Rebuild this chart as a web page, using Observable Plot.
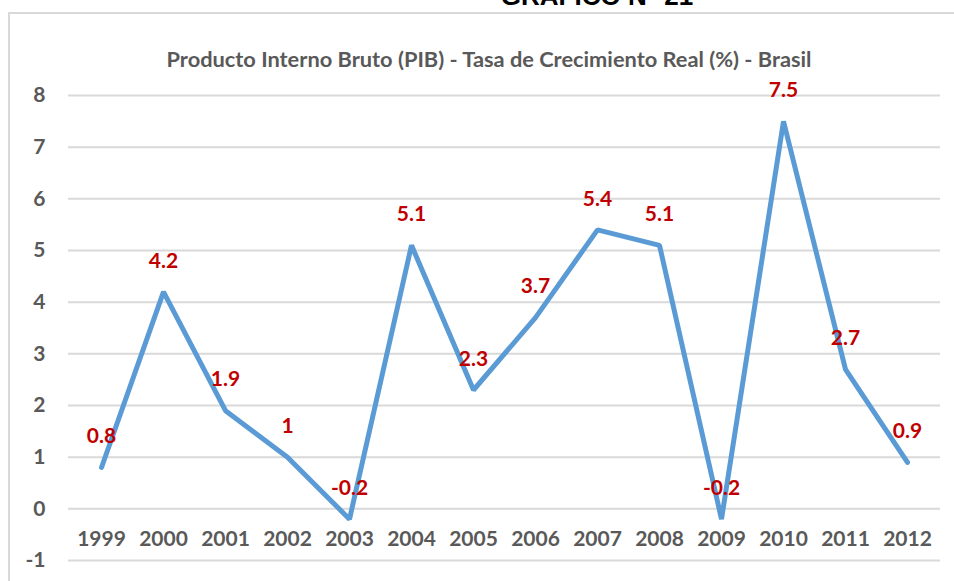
<!DOCTYPE html>
<html>
<head>
<meta charset="utf-8">
<script src="https://cdn.jsdelivr.net/npm/d3@7"></script>
<script src="https://cdn.jsdelivr.net/npm/@observablehq/plot@0.6"></script>
<style>
  html, body { margin: 0; padding: 0; background: #fff; }
  #wrap { position: relative; width: 954px; height: 581px; overflow: hidden; }
  #frame { position: absolute; left: 8px; top: 12px; width: 960px; height: 600px; border-left: 2px solid #d9d9d9; border-top: 2px solid #d9d9d9; box-sizing: border-box; }
  #gtitle { position: absolute; left: 0; width: 1194px; text-align: center; top: -19px; font-family: "Liberation Sans", Arial, sans-serif; font-weight: bold; font-size: 26px; color: #000; white-space: nowrap; }
  #ctitle { position: absolute; left: 0; width: 978px; text-align: center; top: 45px; font-family: Lato, sans-serif; font-weight: bold; font-size: 21.8px; color: #595959; white-space: nowrap; }
  #chart { position: absolute; left: 0; top: 0; }
</style>
</head>
<body>
<div id="wrap">
  <div id="frame"></div>
  <div id="gtitle">GRAFICO N° 21</div>
  <div id="ctitle">Producto Interno Bruto (PIB) - Tasa de Crecimiento Real (%) - Brasil</div>
  <div id="chart"></div>
</div>
<script>
const years = ["1999","2000","2001","2002","2003","2004","2005","2006","2007","2008","2009","2010","2011","2012"];
const growth = [0.8, 4.2, 1.9, 1, -0.2, 5.1, 2.3, 3.7, 5.4, 5.1, -0.2, 7.5, 2.7, 0.9];
const yTicks = [-1, 0, 1, 2, 3, 4, 5, 6, 7, 8];

const data = years.map((y, i) => ({year: y, value: growth[i]}));
const font = "Lato, sans-serif";

const chart = Plot.plot({
  width: 954,
  height: 581,
  marginTop: 95,
  marginBottom: 21,
  marginLeft: 68,
  marginRight: 14,
  style: {background: "transparent", fontFamily: font},
  x: {type: "band", domain: years, padding: 0},
  y: {domain: [-1, 8]},
  marks: [
    Plot.ruleY(yTicks, {stroke: "#d9d9d9", strokeWidth: 2}),
    Plot.axisY({ticks: yTicks, tickSize: 0, tickPadding: 23, fontSize: 21, fontWeight: "bold", fill: "#595959", tickFormat: d => String(d), label: null}),
    Plot.axisX({anchor: "bottom", tickSize: 0, tickPadding: 0, dy: -29, fontSize: 21, fontWeight: "bold", fill: "#595959", label: null}),
    Plot.line(data, {x: "year", y: "value", stroke: "#5b9bd5", strokeWidth: 5, strokeLinecap: "round", strokeLinejoin: "miter"}),
    Plot.text(data, {x: "year", y: "value", text: d => String(d.value), dy: -31, fontSize: 21, fontWeight: "bold", fill: "#c00000"})
  ]
});
document.getElementById("chart").appendChild(chart);
</script>
</body>
</html>
